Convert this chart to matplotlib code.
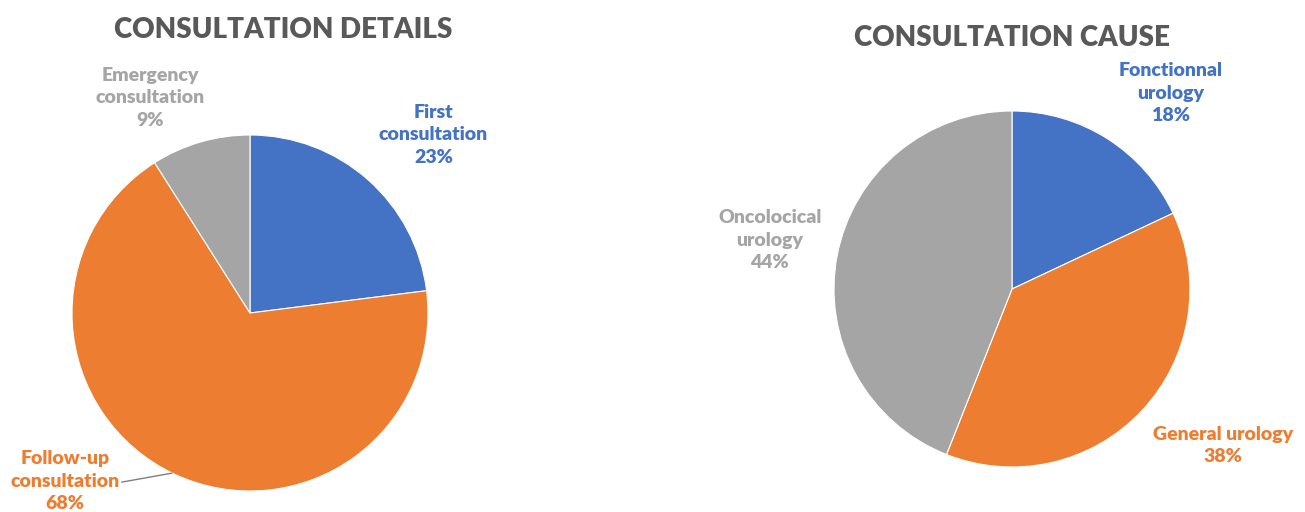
import matplotlib
matplotlib.use('Agg')
import matplotlib.pyplot as plt

plt.rcParams['font.family'] = ['Lato', 'DejaVu Sans']

# data
details_labels = ['First\nconsultation', 'Follow-up\nconsultation', 'Emergency\nconsultation']
details_values = [23, 68, 9]
cause_labels = ['Fonctionnal\nurology', 'General urology', 'Oncolocical\nurology']
cause_values = [18, 38, 44]

colors = ['#4472C4', '#ED7D31', '#A5A5A5']
title_color = '#595959'

W, H = 1305, 512
fig = plt.figure(figsize=(W / 100, H / 100), dpi=100)


def pie_axes(cx, cy, r):
    # pixel centre / radius -> figure fraction
    return fig.add_axes([(cx - r) / W, (H - cy - r) / H, 2 * r / W, 2 * r / H])


def draw_pie(ax, values, labels, label_pos):
    ax.pie(values, colors=colors, startangle=90, counterclock=False,
           radius=1, wedgeprops=dict(edgecolor='white', linewidth=0.8))
    ax.set_xlim(-1, 1)
    ax.set_ylim(-1, 1)
    ax.set_aspect('equal')
    ax.axis('off')
    for lab, val, col, (x, y) in zip(labels, values, colors, label_pos):
        ax.text(x, y, f'{lab}\n{val}%', color=col, fontsize=14, fontweight='heavy',
                ha='center', va='center', linespacing=1.4, clip_on=False)


ax1 = pie_axes(250, 313, 178)
draw_pie(ax1, details_values, details_labels,
         [(1.03, 1.0), (-1.04, -0.945), (-0.56, 1.21)])
ax1.plot([-0.72, -0.44], [-0.95, -0.90], color='#7f7f7f', lw=1, clip_on=False)

ax2 = pie_axes(1012, 289, 178)
draw_pie(ax2, cause_values, cause_labels,
         [(0.89, 1.10), (1.185, -0.88), (-1.36, 0.275)])

fig.text(283 / W, 1 - 30 / H, 'CONSULTATION DETAILS', ha='center', va='center',
         fontsize=20, fontweight='heavy', color=title_color)
fig.text(1012 / W, 1 - 38 / H, 'CONSULTATION CAUSE', ha='center', va='center',
         fontsize=20, fontweight='heavy', color=title_color)

fig.savefig('out.png', dpi=100)
